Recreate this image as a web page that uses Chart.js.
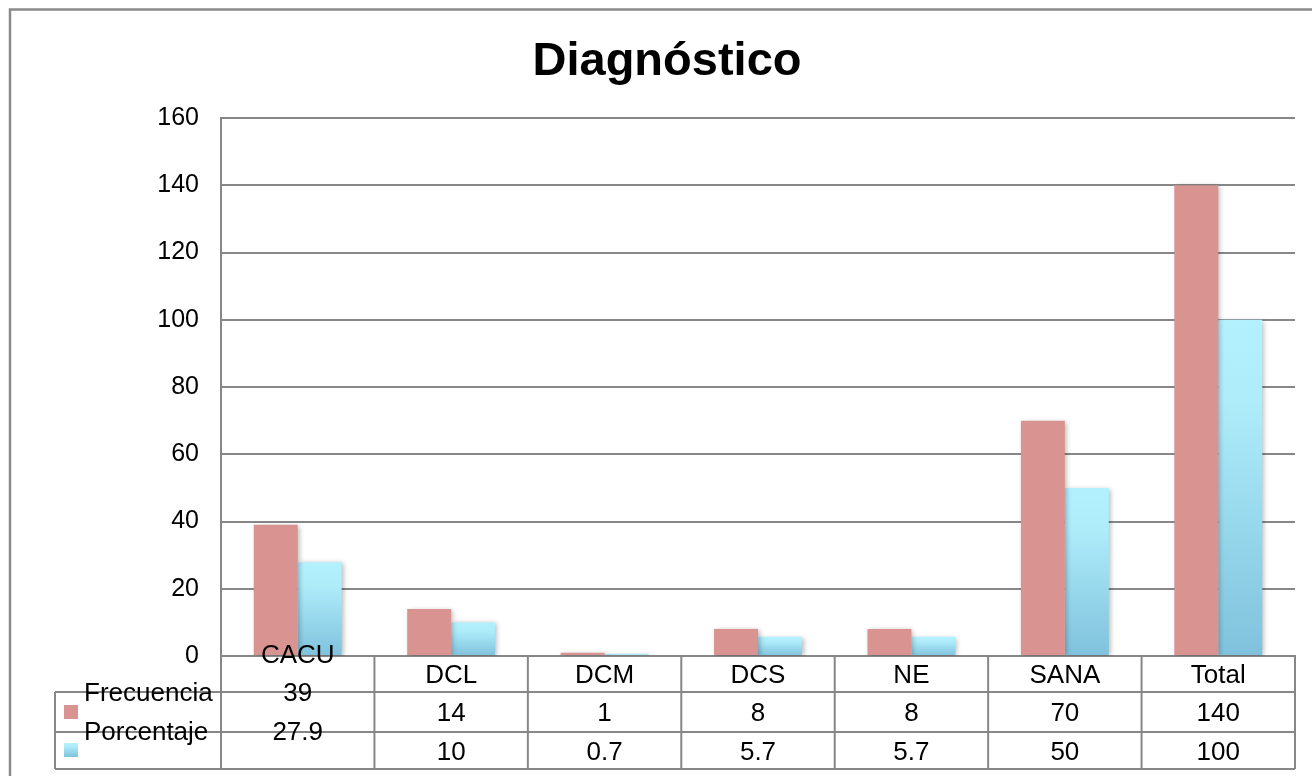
<!DOCTYPE html>
<html lang="es">
<head>
<meta charset="utf-8">
<title>Diagnóstico</title>
<script src="https://cdn.jsdelivr.net/npm/chart.js@4/dist/chart.umd.min.js"></script>
<style>
  html, body { margin: 0; padding: 0; background: #ffffff; }
  #wrap { position: relative; width: 1312px; height: 776px; overflow: hidden; }
  canvas { display: block; }
</style>
</head>
<body>
<div id="wrap"><canvas id="chart" width="1312" height="776"></canvas></div>
<script>
// Data
const titleText = 'Diagnóstico';
const categories = ['CACU', 'DCL', 'DCM', 'DCS', 'NE', 'SANA', 'Total'];
const frecuencia = [39, 14, 1, 8, 8, 70, 140];
const porcentaje = [27.9, 10, 0.7, 5.7, 5.7, 50, 100];
const seriesNames = ['Frecuencia', 'Porcentaje'];
const yTicks = [0, 20, 40, 60, 80, 100, 120, 140, 160];

const FONT = '"Liberation Sans", Arial, Helvetica, sans-serif';
const LINE = '#878787';
const PINK = '#d99391';
const CYAN_TOP = '#b3f1ff';
const CYAN_BOTTOM = '#80c2dd';

function cyanGradient(c, top, bottom) {
  const g = c.createLinearGradient(0, top, 0, bottom);
  g.addColorStop(0, CYAN_TOP);
  g.addColorStop(0.25, '#aeecfa');
  g.addColorStop(1, CYAN_BOTTOM);
  return g;
}

function cyanFill(context) {
  const chart = context.chart;
  const y = chart.scales && chart.scales.y;
  if (!y || context.type !== 'data') return '#9fdcef';
  const v = context.raw;
  const top = y.getPixelForValue(v);
  const base = y.getPixelForValue(0);
  if (!isFinite(top) || !isFinite(base) || base - top < 1) return '#9fdcef';
  return cyanGradient(chart.ctx, top, base);
}

// Soft drop shadow under the bars
const barShadow = {
  id: 'barShadow',
  beforeDatasetsDraw(chart) {
    const c = chart.ctx;
    c.save();
    c.shadowColor = 'rgba(0,0,0,0.28)';
    c.shadowBlur = 5;
    c.shadowOffsetX = 2;
    c.shadowOffsetY = 1;
  },
  afterDatasetsDraw(chart) {
    chart.ctx.restore();
  }
};

// Frame and title
const frameAndTitle = {
  id: 'frameAndTitle',
  beforeDraw(chart) {
    const c = chart.ctx;
    c.save();
    c.fillStyle = '#ffffff';
    c.fillRect(0, 0, chart.width, chart.height);
    c.restore();
  },
  afterDraw(chart) {
    const c = chart.ctx;
    c.save();
    c.strokeStyle = '#8a8a8a';
    c.lineWidth = 2.5;
    c.strokeRect(10, 9.5, chart.width + 40, chart.height + 40);
    c.fillStyle = '#000000';
    c.font = 'bold 47px ' + FONT;
    c.textAlign = 'center';
    c.textBaseline = 'alphabetic';
    c.fillText(titleText, 667, 75);
    c.restore();
  }
};

// Data table beneath the plot
const dataTable = {
  id: 'dataTable',
  afterDraw(chart) {
    const c = chart.ctx;
    const xs = chart.scales.x;
    const left = xs.left, right = xs.right;
    const n = categories.length;
    const colW = (right - left) / n;
    const b = chart.chartArea.bottom;
    const y1 = b + 36, y2 = b + 76, y3 = b + 113;
    const legLeft = 55;

    c.save();
    c.strokeStyle = LINE;
    c.lineWidth = 2;
    c.beginPath();
    c.moveTo(legLeft, y1); c.lineTo(right, y1);
    c.moveTo(legLeft, y2); c.lineTo(right, y2);
    c.moveTo(legLeft, y3); c.lineTo(right, y3);
    c.moveTo(legLeft, y1); c.lineTo(legLeft, y3);
    for (let i = 0; i <= n; i++) {
      const x = left + i * colW;
      c.moveTo(x, b); c.lineTo(x, y3);
    }
    c.stroke();

    // legend keys
    c.fillStyle = PINK;
    c.fillRect(64, 705, 14, 14);
    c.fillStyle = cyanGradient(c, 743, 757);
    c.fillRect(64, 743, 14, 14);

    c.fillStyle = '#000000';
    c.font = '26px ' + FONT;
    c.textBaseline = 'middle';
    c.textAlign = 'left';
    c.fillText(seriesNames[0], 84, b + 38);
    c.fillText(seriesNames[1], 84, b + 77);

    c.textAlign = 'center';
    for (let i = 0; i < n; i++) {
      const cx = left + (i + 0.5) * colW;
      const shift = i === 0 ? -20 : 0;
      c.fillText(categories[i], cx, b + 20 + shift);
      c.fillText(String(frecuencia[i]), cx, b + 58 + shift);
      c.fillText(String(porcentaje[i]), cx, b + 97 + shift);
    }
    c.restore();
  }
};

new Chart(document.getElementById('chart'), {
  type: 'bar',
  data: {
    labels: categories,
    datasets: [
      {
        label: seriesNames[0],
        data: frecuencia,
        backgroundColor: PINK,
        borderWidth: 0,
        categoryPercentage: 0.573,
        barPercentage: 1
      },
      {
        label: seriesNames[1],
        data: porcentaje,
        backgroundColor: cyanFill,
        borderWidth: 0,
        categoryPercentage: 0.573,
        barPercentage: 1
      }
    ]
  },
  options: {
    responsive: false,
    animation: false,
    devicePixelRatio: 1,
    layout: { padding: { top: 118, right: 17, left: 0, bottom: 0 } },
    plugins: {
      legend: { display: false },
      title: { display: false },
      tooltip: { enabled: false }
    },
    scales: {
      x: {
        grid: { display: false, drawTicks: false },
        border: { display: true, color: LINE, width: 2 },
        ticks: { display: false },
        afterFit(scale) { scale.height = 120; }
      },
      y: {
        min: 0,
        max: 160,
        afterBuildTicks(scale) { scale.ticks = yTicks.map(v => ({ value: v })); },
        grid: { color: LINE, lineWidth: 2, drawTicks: false },
        border: { display: true, color: LINE, width: 2 },
        ticks: {
          padding: 22,
          color: '#000000',
          font: { family: FONT, size: 25 }
        },
        afterFit(scale) { scale.width = 221; }
      }
    }
  },
  plugins: [frameAndTitle, barShadow, dataTable]
});
</script>
</body>
</html>
